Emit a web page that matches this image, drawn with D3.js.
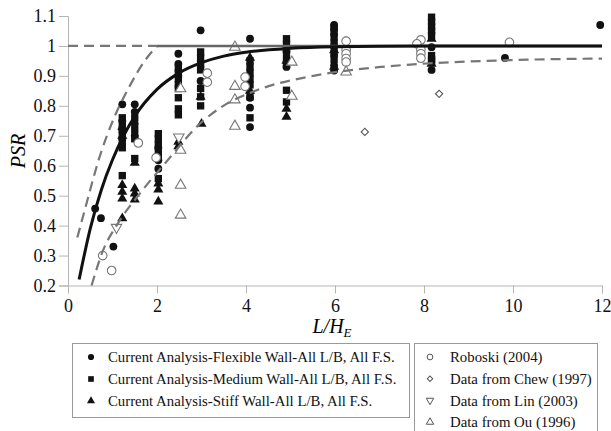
<!DOCTYPE html>
<html>
<head>
<meta charset="utf-8">
<script src="https://cdn.jsdelivr.net/npm/d3@7"></script>
<style>
  body { margin: 0; background: #fff; }
  svg text { font-family: "Liberation Serif", "Times New Roman", Times, "DejaVu Serif", serif !important; }
</style>
</head>
<body>
<div id="vis"></div>
<script>
// values: [L/HE, PSR]
const flexible = [[0.61,0.457],[0.74,0.425],[1.02,0.33],
  [1.22,0.805],[1.22,0.75],[1.22,0.72],[1.22,0.69],
  [1.5,0.805],[1.5,0.78],[1.5,0.74],[1.5,0.70],
  [2.03,0.66],[2.03,0.618],[2.03,0.59],
  [2.48,0.974],[2.48,0.94],[2.48,0.90],
  [2.98,1.052],[2.98,0.883],
  [4.09,1.024],[4.09,0.827],[4.09,0.794],[4.09,0.729],
  [4.91,0.93],[4.91,0.98],
  [5.98,1.07],[5.98,1.055],[5.98,1.04],[5.98,1.0],[5.98,0.97],[5.98,0.935],[5.98,0.918],
  [8.17,0.996],[8.17,0.92],[9.82,0.96],[11.96,1.07]]
const medium = [[1.22,0.76],[1.22,0.74],[1.22,0.72],[1.22,0.70],[1.22,0.68],[1.22,0.66],[1.22,0.567],
  [1.5,0.76],[1.5,0.72],[1.5,0.69],[1.5,0.624],
  [2.03,0.707],[2.03,0.69],[2.03,0.67],[2.03,0.65],[2.03,0.63],[2.03,0.557],
  [2.48,0.925],[2.48,0.91],[2.48,0.89],[2.48,0.87],[2.48,0.858],[2.48,0.827],[2.48,0.79],[2.48,0.77],
  [2.98,0.98],[2.98,0.96],[2.98,0.94],[2.98,0.92],[2.98,0.858],[2.98,0.83],[2.98,0.80],
  [4.09,0.95],[4.09,0.93],[4.09,0.91],[4.09,0.89],[4.09,0.87],[4.09,0.83],[4.09,0.76],
  [4.91,1.024],[4.91,1.005],[4.91,0.99],[4.91,0.96],[4.91,0.94],[4.91,0.852],[4.91,0.813],
  [5.98,1.06],[5.98,1.03],[5.98,1.01],[5.98,0.99],[5.98,0.955],
  [8.17,1.096],[8.17,1.08],[8.17,1.065],[8.17,1.05],[8.17,1.035],[8.17,0.968],[8.17,0.955],[8.17,0.946]]
const stiff = [[1.22,0.73],[1.22,0.70],[1.22,0.535],[1.22,0.513],[1.22,0.49],[1.22,0.424],
  [1.5,0.61],[1.5,0.524],[1.5,0.507],[1.5,0.487],
  [2.03,0.54],[2.03,0.52],[2.03,0.48],
  [2.48,0.68],[2.48,0.665],[2.98,0.83],[3.0,0.74],
  [4.09,0.96],[4.09,0.85],[4.91,0.79],[4.91,0.763],[4.91,0.95],
  [5.98,0.93],[5.98,0.985],[8.17,1.024],[8.17,0.94]]
const roboski = [[0.78,0.30],[0.98,0.25],[1.58,0.676],[1.98,0.627],[3.13,0.909],[3.13,0.879],
  [3.98,0.896],[3.98,0.865],[6.25,1.016],[6.25,0.987],[6.25,0.974],[6.25,0.958],[6.25,0.946],
  [7.93,1.02],[7.84,1.007],[7.93,0.988],[7.93,0.974],[7.93,0.959],[9.92,1.012]]
const chew = [[6.67,0.713],[8.34,0.84]]
const lin = [[1.09,0.394],[2.49,0.696]]
const ou = [[2.53,0.857],[2.53,0.652],[2.53,0.535],[2.53,0.435],[3.75,0.996],[3.75,0.865],
  [3.75,0.82],[3.75,0.732],[5.03,0.946],[5.03,0.832],[6.25,0.913]]

// curves
const meanX = [0.25,0.5,0.75,1,1.25,1.5,2,2.5,3,3.5,4,5,6,8,12]
const meanY = [0.22,0.39,0.52,0.62,0.70,0.765,0.855,0.91,0.944,0.966,0.979,0.992,0.997,1,1]
const upperX = [0.21,0.4,0.7,1.05,1.4,1.7,2.0]
const upperY = [0.36,0.465,0.625,0.765,0.87,0.945,1.0]
const lowerX = [0.53,0.79,1.09,1.63,2.22,2.97,3.49,4.24,5.51,6.97,7.91,9.78,12]
const lowerY = [0.2,0.318,0.40,0.51,0.615,0.741,0.800,0.852,0.90,0.929,0.94,0.952,0.958]

const xTicks = [0,2,4,6,8,10,12]
const yTicks = [0.2,0.3,0.4,0.5,0.6,0.7,0.8,0.9,1,1.1]
const legendLeft = ["Current Analysis-Flexible Wall-All L/B, All F.S.",
  "Current Analysis-Medium Wall-All L/B, All F.S.",
  "Current Analysis-Stiff Wall-All L/B, All F.S."]
const legendRight = ["Roboski (2004)","Data from Chew (1997)","Data from Lin (2003)","Data from Ou (1996)"]

const width = 611, height = 431
const svg = d3.select("#vis").append("svg")
  .attr("width", width).attr("height", height)

const x = d3.scaleLinear().domain([0,12]).range([68,602])
const y = d3.scaleLinear().domain([0.2,1.1]).range([285.5,16])
const axisColor = "#b5b5b5"

// x axis
const xAxis = svg.append("g").attr("transform", "translate(0,285.5)")
xAxis.call(d3.axisBottom(x).tickValues(d3.range(0,13,1)).tickSize(5).tickFormat(""))
xAxis.call(d3.axisBottom(x).tickValues(xTicks).tickSize(8).tickFormat(d3.format("d")))
xAxis.selectAll("path, line").attr("stroke", axisColor)
xAxis.selectAll("text").attr("fill", "#111").style("font-size", "18px")
  .attr("y", 26).attr("dy", 0)

// y axis
const yAxis = svg.append("g").attr("transform", "translate(68,0)")
yAxis.call(d3.axisLeft(y).tickValues(d3.range(0.25,1.1,0.1)).tickSize(5).tickFormat(""))
yAxis.call(d3.axisLeft(y).tickValues(yTicks).tickSize(9).tickFormat(d => d3.format("")(+d.toFixed(1))))
yAxis.selectAll("path, line").attr("stroke", axisColor)
yAxis.selectAll("text").attr("fill", "#111").style("font-size", "18px").attr("x", -12)

// axis titles
svg.append("text")
  .attr("transform", "translate(25,151) rotate(-90)")
  .attr("text-anchor", "middle")
  .style("font-size", "20px").style("font-style", "italic")
  .text("PSR")
const xt = svg.append("text")
  .attr("x", 332).attr("y", 333)
  .attr("text-anchor", "middle")
  .style("font-size", "20px").style("font-style", "italic")
xt.append("tspan").text("L/H")
xt.append("tspan").attr("dy", 4).style("font-size", "13px").text("E")

// markers
const sym = {
  circle: d3.symbol(d3.symbolCircle, 48),
  square: d3.symbol(d3.symbolSquare, 54),
  triangle: d3.symbol(d3.symbolTriangle, 44),
  ocircle: d3.symbol(d3.symbolCircle, 58),
  diamond: d3.symbol(d3.symbolSquare, 26),
  otri: d3.symbol(d3.symbolTriangle, 48)
}
const series = [
  {data: flexible, path: sym.circle, fill: "#111", stroke: "none", rot: 0},
  {data: medium, path: sym.square, fill: "#111", stroke: "none", rot: 0},
  {data: stiff, path: sym.triangle, fill: "#111", stroke: "none", rot: 0},
  {data: roboski, path: sym.ocircle, fill: "#fff", stroke: "#777", rot: 0},
  {data: chew, path: sym.diamond, fill: "#fff", stroke: "#555", rot: 45},
  {data: lin, path: sym.otri, fill: "#fff", stroke: "#777", rot: 180},
  {data: ou, path: sym.otri, fill: "#fff", stroke: "#777", rot: 0}
]
series.forEach(s => {
  svg.append("g").selectAll("path")
    .data(s.data)
    .enter()
    .append("path")
      .attr("d", s.path())
      .attr("transform", d => "translate(" + x(d[0]) + "," + y(d[1]) + ") rotate(" + s.rot + ")")
      .attr("fill", s.fill)
      .attr("stroke", s.stroke)
      .attr("stroke-width", 1.1)
})

// curves
const line = d3.line().x(d => x(d[0])).y(d => y(d[1])).curve(d3.curveMonotoneX)
svg.append("path")
  .attr("d", line([[0,1],[2,1]]))
  .attr("fill", "none").attr("stroke", "#777").attr("stroke-width", 2.2)
  .attr("stroke-dasharray", "10,6")
svg.append("path")
  .attr("d", line(upperX.map((v,i) => [v, upperY[i]])))
  .attr("fill", "none").attr("stroke", "#777").attr("stroke-width", 2.2)
  .attr("stroke-dasharray", "10,6")
svg.append("path")
  .attr("d", line([[2,1],[12,1]]))
  .attr("fill", "none").attr("stroke", "#666").attr("stroke-width", 2.4)
svg.append("path")
  .attr("d", line(lowerX.map((v,i) => [v, lowerY[i]])))
  .attr("fill", "none").attr("stroke", "#777").attr("stroke-width", 2.2)
  .attr("stroke-dasharray", "10,6")
svg.append("path")
  .attr("d", line(meanX.map((v,i) => [v, meanY[i]])))
  .attr("fill", "none").attr("stroke", "#111").attr("stroke-width", 3)

// legends
svg.append("rect").attr("x", 72.5).attr("y", 343.5).attr("width", 337).attr("height", 74)
  .attr("fill", "#fff").attr("stroke", "#999")
svg.append("rect").attr("x", 414.5).attr("y", 343.5).attr("width", 183).attr("height", 100)
  .attr("fill", "#fff").attr("stroke", "#999")

const legSymL = [d3.symbol(d3.symbolCircle, 30), d3.symbol(d3.symbolSquare, 32), d3.symbol(d3.symbolTriangle, 28)]
const lg = svg.append("g")
lg.selectAll("path").data(legendLeft).enter().append("path")
  .attr("d", (d,i) => legSymL[i]())
  .attr("transform", (d,i) => "translate(91," + (357 + i*22) + ")")
  .attr("fill", "#111")
lg.selectAll("text").data(legendLeft).enter().append("text")
  .attr("x", 108).attr("y", (d,i) => 357 + i*22).attr("dy", "0.35em")
  .style("font-size", "14.8px").attr("fill", "#111")
  .text(d => d)

const legSymR = [
  {p: d3.symbol(d3.symbolCircle, 26), r: 0},
  {p: d3.symbol(d3.symbolSquare, 15), r: 45},
  {p: d3.symbol(d3.symbolTriangle, 24), r: 180},
  {p: d3.symbol(d3.symbolTriangle, 24), r: 0}
]
const rg = svg.append("g")
rg.selectAll("path").data(legendRight).enter().append("path")
  .attr("d", (d,i) => legSymR[i].p())
  .attr("transform", (d,i) => "translate(430," + (357 + i*21.7) + ") rotate(" + legSymR[i].r + ")")
  .attr("fill", "#fff").attr("stroke", "#555").attr("stroke-width", 1)
rg.selectAll("text").data(legendRight).enter().append("text")
  .attr("x", 450).attr("y", (d,i) => 357 + i*21.7).attr("dy", "0.35em")
  .style("font-size", "14.8px").attr("fill", "#111")
  .text(d => d)
</script>
</body>
</html>
